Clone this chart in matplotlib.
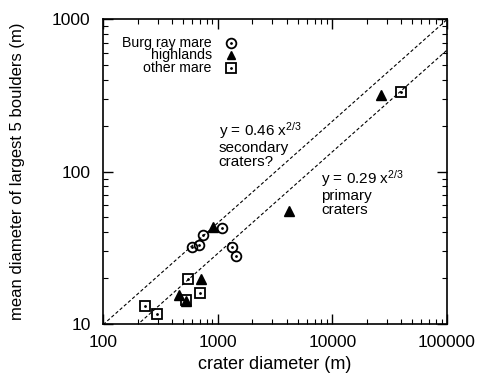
import numpy as np
import matplotlib
matplotlib.use("Agg")
import matplotlib.pyplot as plt

plt.rcParams['font.family'] = ['Liberation Sans', 'DejaVu Sans']
plt.rcParams['mathtext.fontset'] = 'custom'
plt.rcParams['mathtext.rm'] = 'Liberation Sans'
plt.rcParams['mathtext.it'] = 'Liberation Sans'

# data
burg_d = [1085, 740, 595, 690, 1320, 1440]
burg_b = [42.5, 38.5, 32.0, 33.0, 31.8, 28.0]

high_d = [905, 710, 460, 530, 4150, 26500]
high_b = [43.5, 19.8, 15.4, 14.1, 55.5, 318]

mare_d = [545, 695, 232, 297, 530, 40200]
mare_b = [19.6, 15.9, 13.1, 11.6, 14.3, 333]

fit_coef = [0.46, 0.29]

fig = plt.figure(figsize=(4.82, 3.75), dpi=100)
ax = fig.add_axes([0.214, 0.136, 0.713, 0.813])

xx = np.logspace(2, 5, 200)
for c in fit_coef:
    ax.plot(xx, c * xx ** (2 / 3), color='black', lw=0.8, ls=(0, (3, 2)))

ax.plot(burg_d, burg_b, 'o', mfc='none', mec='black', mew=1.3, ms=7)
ax.plot(burg_d, burg_b, '.', color='black', ms=2)
ax.plot(high_d, high_b, '^', color='black', ms=6.5)
ax.plot(mare_d, mare_b, 's', mfc='none', mec='black', mew=1.3, ms=7)
ax.plot(mare_d, mare_b, '.', color='black', ms=2)

ax.set_xscale('log')
ax.set_yscale('log')
ax.set_xlim(100, 100000)
ax.set_ylim(10, 1000)
ax.set_xticks([100, 1000, 10000, 100000])
ax.set_xticklabels(['100', '1000', '10000', '100000'])
ax.set_yticks([10, 100, 1000])
ax.set_yticklabels(['10', '100', '1000'])
ax.tick_params(which='both', direction='in', top=True, right=True, labelsize=12.5)
ax.tick_params(which='major', length=7, width=1)
ax.tick_params(which='minor', length=3.5, width=0.8)
ax.tick_params(axis='x', pad=8)
ax.tick_params(axis='y', pad=9)
for s in ax.spines.values():
    s.set_linewidth(1.2)

ax.set_xlabel('crater diameter (m)', fontsize=13)
ax.set_ylabel('mean diameter of largest 5 boulders (m)', fontsize=12)
ax.yaxis.set_label_coords(-0.228, 0.5)

# legend, gnuplot style
lx = 0.316
for i, (lab, mk) in enumerate([('Burg ray mare', 'o'), ('highlands', '^'), ('other mare', 's')]):
    ly = 0.922 - i * 0.041
    ax.text(lx, ly, lab, transform=ax.transAxes, ha='right', va='center', fontsize=10.2)
    if mk == '^':
        ax.plot([lx + 0.056], [ly], mk, color='black', ms=6, transform=ax.transAxes)
    else:
        ax.plot([lx + 0.056], [ly], mk, mfc='none', mec='black', mew=1.3, ms=7, transform=ax.transAxes)
        ax.plot([lx + 0.056], [ly], '.', color='black', ms=2, transform=ax.transAxes)

ax.text(0.336, 0.668, 'y = 0.46 x$^{2/3}$\nsecondary\ncraters?', transform=ax.transAxes,
        ha='left', va='top', fontsize=11, linespacing=1.0)
ax.text(0.634, 0.51, 'y = 0.29 x$^{2/3}$\nprimary\ncraters', transform=ax.transAxes,
        ha='left', va='top', fontsize=11, linespacing=1.0)

fig.savefig('out.png', dpi=100)
